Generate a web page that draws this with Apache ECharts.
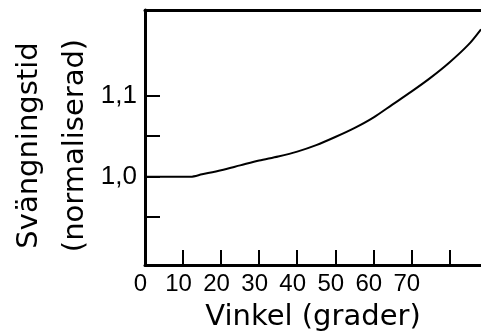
<!DOCTYPE html>
<html>
<head>
<meta charset="utf-8">
<script src="https://cdn.jsdelivr.net/npm/echarts@6/dist/echarts.min.js"></script>
<style>html,body{margin:0;padding:0;background:#fff}#c{width:481px;height:335px}</style>
</head>
<body>
<div id="c"></div>
<script>
// Data
const angles = [0, 5, 10, 12, 15, 20, 25, 30, 35, 40, 45, 50, 55, 60, 65, 70, 75, 80, 85, 88.3];
const periods = [1.000, 1.000, 1.000, 1.000, 1.003, 1.008, 1.014, 1.020, 1.025, 1.031, 1.039, 1.049, 1.060, 1.073, 1.089, 1.105, 1.122, 1.141, 1.163, 1.182];
const xTicks = [0, 10, 20, 30, 40, 50, 60, 70, 80];
const xLabels = [0, 10, 20, 30, 40, 50, 60, 70];
const yTicks = [0.95, 1.0, 1.05, 1.1];
const yLabels = [1.0, 1.1];

const chart = echarts.init(document.getElementById('c'), null, {renderer: 'canvas'});
const labelFont = '"Liberation Sans", Arial, sans-serif';
const nameFont = '"DejaVu Sans", sans-serif';
chart.setOption({
  animation: false,
  backgroundColor: '#fff',
  grid: {left: 145, right: 0, top: 10, bottom: 70, containLabel: false, outerBoundsMode: 'none'},
  xAxis: [{
    type: 'value', min: 0, max: 88.3,
    axisLine: {show: true, onZero: false, lineStyle: {color: '#000', width: 3}},
    axisTick: {show: true, inside: true, length: 15, customValues: xTicks, lineStyle: {color: '#000', width: 2}},
    axisLabel: {show: true, customValues: xLabels, margin: 7, fontSize: 24, color: '#000', fontFamily: labelFont, padding: [0, 9, 0, 0], hideOverlap: false},
    splitLine: {show: false},
    name: 'Vinkel (grader)', nameLocation: 'middle', nameGap: 38, nameMoveOverlap: false,
    nameTextStyle: {fontSize: 29, color: '#000', fontFamily: nameFont}
  }, {
    type: 'value', min: 0, max: 88.3, position: 'top',
    axisLine: {show: true, onZero: false, lineStyle: {color: '#000', width: 3}},
    axisTick: {show: false}, axisLabel: {show: false}, splitLine: {show: false}
  }],
  yAxis: {
    type: 'value', min: 0.891, max: 1.2058,
    axisLine: {show: true, onZero: false, lineStyle: {color: '#000', width: 3}},
    axisTick: {show: true, inside: true, length: 15, customValues: yTicks, lineStyle: {color: '#000', width: 2}},
    axisLabel: {show: true, customValues: yLabels, margin: 8, fontSize: 26, color: '#000', fontFamily: labelFont,
      formatter: v => v.toFixed(1).replace('.', ',')},
    splitLine: {show: false},
    name: 'Svängningstid\n(normaliserad)', nameLocation: 'middle', nameRotate: 90, nameGap: 47, nameMoveOverlap: false,
    nameTextStyle: {fontSize: 29, lineHeight: 46, color: '#000', fontFamily: nameFont, padding: [0, 16, 0, 0]}
  },
  series: [{
    type: 'line', xAxisIndex: 0,
    data: angles.map((a, i) => [a, periods[i]]),
    showSymbol: false, smooth: 0.3,
    lineStyle: {color: '#000', width: 2}
  }]
});
</script>
</body>
</html>
